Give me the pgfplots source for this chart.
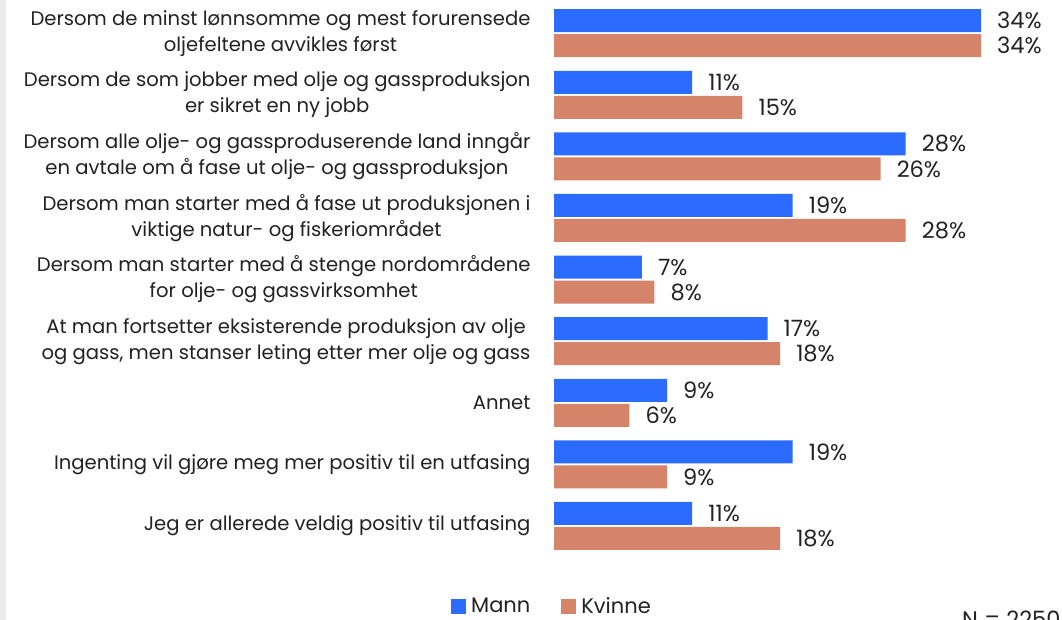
\documentclass[border=0pt]{standalone}
\usepackage{pgfplots}
\pgfplotsset{compat=1.18}
\usepackage{fontspec}
\setmainfont{Poppins}
\definecolor{mannc}{HTML}{2B6BFF}
\definecolor{kvinc}{HTML}{D5846A}
\definecolor{txt}{HTML}{222222}
\begin{document}
\begin{tikzpicture}[x=1pt,y=1pt]
\fill[white] (0,0) rectangle (1062,620);
\fill[black!8] (0,0) rectangle (6,620);
\begin{axis}[
  at={(554pt,63.2pt)}, anchor=south west,
  scale only axis, width=502.4pt, height=554.4pt,
  xmin=0, xmax=40, ymin=-0.5, ymax=8.5,
  /pgf/number format/assume math mode=true,
  axis line style={draw=none}, xtick=\empty,
  ytick={0,1,2,3,4,5,6,7,8},
  yticklabels={
    {Jeg er allerede veldig positiv til utfasing},
    {Ingenting vil gjøre meg mer positiv til en utfasing},
    {Annet},
    {At man fortsetter eksisterende produksjon av olje\\og gass, men stanser leting etter mer olje og gass},
    {Dersom man starter med å stenge nordområdene\\for olje- og gassvirksomhet},
    {Dersom man starter med å fase ut produksjonen i\\viktige natur- og fiskeriområdet},
    {Dersom alle olje- og gassproduserende land inngår\\en avtale om å fase ut olje- og gassproduksjon},
    {Dersom de som jobber med olje og gassproduksjon\\er sikret en ny jobb},
    {Dersom de minst lønnsomme og mest forurensede\\oljefeltene avvikles først}},
  major tick length=0pt,
  yticklabel style={align=center, font=\fontsize{19.6}{26}\selectfont, text=txt, xshift=-20pt},
  xbar, bar width=23pt,
  clip=false,
  nodes near coords={\pgfmathprintnumber{\pgfplotspointmeta}\%},
  nodes near coords align=horizontal,
  every node near coord/.append style={anchor=west, inner sep=0pt, xshift=16pt, font=\fontsize{22.5}{24}\selectfont, text=txt},
  legend style={draw=none, fill=none, at={(-0.004,-0.089)}, anchor=center, font=\fontsize{21}{22}\selectfont, text=txt, legend columns=2,
    /tikz/every odd column/.append style={column sep=3pt},
    /tikz/every even column/.append style={column sep=29pt},
    nodes={inner sep=2pt}},
  legend image code/.code={\fill[#1] (0pt,-7.5pt) rectangle (15pt,7.5pt);},
]
\addplot[fill=mannc, draw=none, bar shift=12.5pt] coordinates {
  (11,0) (19,1) (9,2) (17,3) (7,4) (19,5) (28,6) (11,7) (34,8)};
\addlegendentry{Mann}
\addplot[fill=kvinc, draw=none, bar shift=-12.5pt] coordinates {
  (18,0) (9,1) (6,2) (18,3) (8,4) (28,5) (26,6) (15,7) (34,8)};
\addlegendentry{Kvinne}
\end{axis}
\node[anchor=base west, inner sep=0pt, font=\fontsize{22.5}{24}\selectfont, text=txt] at (962,-8) {N = 2250};
\pgfresetboundingbox
\path (0,0) rectangle (1062,620);
\end{tikzpicture}
\end{document}
